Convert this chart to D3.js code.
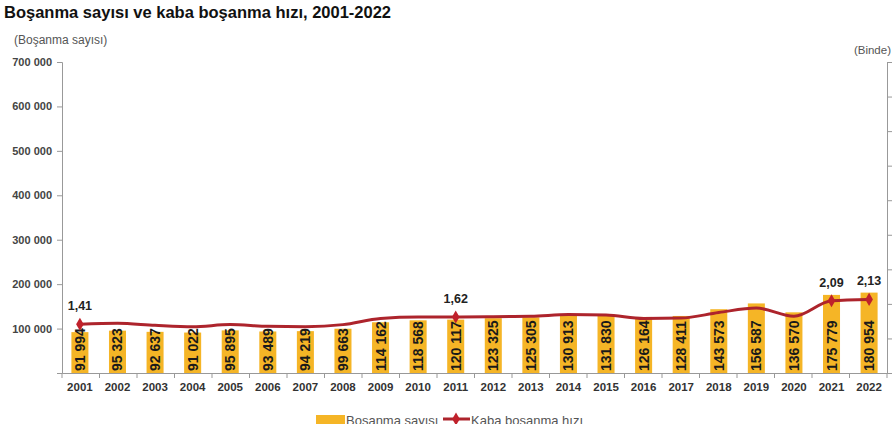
<!DOCTYPE html>
<html><head><meta charset="utf-8">
<script src="https://cdn.jsdelivr.net/npm/d3@7/dist/d3.min.js"></script>
<style>
body{margin:0;background:#fff;}
svg{display:block;font-family:"Liberation Sans",Arial,sans-serif;}
</style></head>
<body><svg id="c" width="894" height="432"></svg>
<script>
const years = ["2001","2002","2003","2004","2005","2006","2007","2008","2009","2010","2011","2012","2013","2014","2015","2016","2017","2018","2019","2020","2021","2022"];
const divorces = [91994,95323,92637,91022,95895,93489,94219,99663,114162,118568,120117,123325,125305,130913,131830,126164,128411,143573,156587,136570,175779,180954];
const crudeRate = [1.41,1.44,1.38,1.34,1.40,1.35,1.34,1.40,1.58,1.62,1.62,1.63,1.64,1.69,1.68,1.58,1.59,1.75,1.88,1.64,2.09,2.13];
const labeledYears = ["2001","2011","2021","2022"];
const leftTicks = [0,100000,200000,300000,400000,500000,600000,700000];
const rightTicks = [0,1,2,3,4,5,6,7,8,9];

const svg = d3.select("#c");
const L = 62, R = 887, T = 62, B = 373;
const x = d3.scaleBand().domain(years).range([L, R]).paddingInner(0.547).paddingOuter(0.25);
const yL = d3.scaleLinear().domain([0, 700000]).range([B, T]);
const yR = d3.scaleLinear().domain([0, 9]).range([B, T]);
const fmt = v => d3.format(",")(v).replace(/,/g, " ");

// Title
svg.append("text").attr("x", 4).attr("y", 18).attr("font-size", 16.5).attr("font-weight", "bold")
  .attr("fill", "#111").text("Boşanma sayısı ve kaba boşanma hızı, 2001-2022");
svg.append("text").attr("x", 14).attr("y", 44).attr("font-size", 12).attr("fill", "#555")
  .text("(Boşanma sayısı)");
svg.append("text").attr("x", 891).attr("y", 54).attr("font-size", 11.5).attr("fill", "#555")
  .attr("text-anchor", "end").text("(Binde)");

// Left axis
const gl = svg.append("g").attr("transform", `translate(${L},0)`)
  .call(d3.axisLeft(yL).tickValues(leftTicks).tickSize(5).tickPadding(5)
    .tickFormat(v => v === 0 ? "" : fmt(v)));
gl.select(".domain").attr("stroke", "#999");
gl.selectAll(".tick line").attr("stroke", "#999");
gl.selectAll(".tick text").attr("font-size", 11).attr("font-weight", "bold").attr("fill", "#444")
  .attr("font-family", "Liberation Sans, Arial, sans-serif");

// Right axis (labels fall outside the frame)
const gr = svg.append("g").attr("transform", `translate(${R},0)`)
  .call(d3.axisRight(yR).tickValues(rightTicks).tickSize(5).tickFormat(""));
gr.select(".domain").attr("stroke", "#999");
gr.selectAll(".tick line").attr("stroke", "#999");

// Bottom axis
const gb = svg.append("g").attr("transform", `translate(0,${B})`)
  .call(d3.axisBottom(x).tickSize(0).tickPadding(10));
gb.select(".domain").attr("stroke", "#999");
gb.selectAll(".tick text").attr("font-size", 11.5).attr("font-weight", "bold").attr("fill", "#333")
  .attr("font-family", "Liberation Sans, Arial, sans-serif");
const bounds = d3.range(years.length + 1).map(i => L + (R - L) * i / years.length);
svg.append("g").selectAll("line").data(bounds).join("line")
  .attr("x1", d => d).attr("x2", d => d).attr("y1", B).attr("y2", B + 5).attr("stroke", "#999");

// Bars
svg.append("g").selectAll("rect").data(years).join("rect")
  .attr("x", d => x(d)).attr("width", x.bandwidth())
  .attr("y", (d, i) => yL(divorces[i])).attr("height", (d, i) => B - yL(divorces[i]))
  .attr("fill", "#f5b526");

// Bar labels
svg.append("g").selectAll("text").data(years).join("text")
  .attr("transform", d => `translate(${x(d) + x.bandwidth() / 2 + 5},${B - 2}) rotate(-90)`)
  .attr("font-size", 14).attr("font-weight", "bold").attr("fill", "#1a1a1a")
  .text((d, i) => fmt(divorces[i]));

// Line
const pts = years.map((d, i) => [x(d) + x.bandwidth() / 2, yR(crudeRate[i])]);
svg.append("path").attr("d", d3.line().curve(d3.curveMonotoneX)(pts))
  .attr("fill", "none").attr("stroke", "#ad242c").attr("stroke-width", 3);
const diamond = d3.symbol().type(d3.symbolDiamond).size(50);
years.forEach((d, i) => {
  if (!labeledYears.includes(d)) return;
  svg.append("path").attr("d", diamond()).attr("transform", `translate(${pts[i][0]},${pts[i][1]})`)
    .attr("fill", "#c0212b");
  svg.append("text").attr("x", pts[i][0]).attr("y", pts[i][1] - 14).attr("text-anchor", "middle")
    .attr("font-size", 12.5).attr("font-weight", "bold").attr("fill", "#222")
    .text(crudeRate[i].toFixed(2).replace(".", ","));
});

// Legend
const lg = svg.append("g");
lg.append("rect").attr("x", 316).attr("y", 415).attr("width", 29).attr("height", 12).attr("fill", "#f5b526");
lg.append("text").attr("x", 346).attr("y", 425).attr("font-size", 13).attr("fill", "#555").text("Boşanma sayısı");
lg.append("line").attr("x1", 443).attr("x2", 470).attr("y1", 419).attr("y2", 419)
  .attr("stroke", "#ad242c").attr("stroke-width", 3);
lg.append("path").attr("d", diamond()).attr("transform", "translate(456,419)").attr("fill", "#c0212b");
lg.append("text").attr("x", 471).attr("y", 425).attr("font-size", 13).attr("fill", "#555").text("Kaba boşanma hızı");
svg.append("rect").attr("x", 0).attr("y", 424).attr("width", 894).attr("height", 8).attr("fill", "#fff");
</script></body></html>
